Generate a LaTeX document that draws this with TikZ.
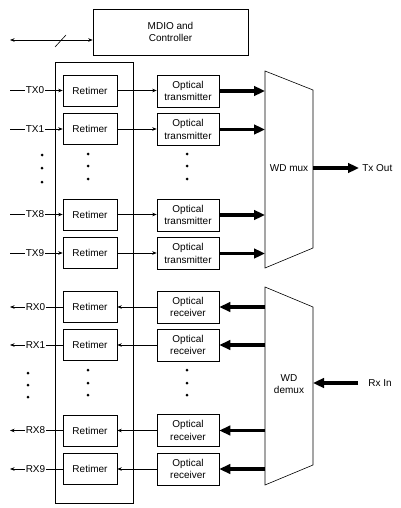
\documentclass[tikz,border=0pt]{standalone}
\usepackage{fontspec}
\setmainfont{Liberation Sans}
\usetikzlibrary{arrows.meta}

\begin{document}
\begin{tikzpicture}[
	x=1pt, y=-1pt,
	line width=0.6pt,
	every node/.style={font=\fontsize{10}{12.5}\selectfont},
	retimerbox/.style={shape=rectangle, draw=black, minimum width=54pt, minimum height=31pt, inner sep=0pt},
	opticbox/.style={shape=rectangle, draw=black, minimum width=62pt, minimum height=32pt, inner sep=0pt, align=center},
	portlabel/.style={inner sep=0.5pt},
	thinarrow/.style={-{Stealth[length=4.5pt,width=3.5pt]}},
	thickarrow/.style={line width=3.2pt, -{Triangle[length=11pt,width=9.5pt]}},
]
\useasboundingbox (0,0) rectangle (401,508);

% control block
\node[shape=rectangle, draw=black, minimum width=155pt, minimum height=46pt, align=center] (mdio) at (170.5,32) {MDIO and\\Controller};
\coordinate (bus) at (10,40);
\draw[{Stealth[length=4.5pt,width=3.5pt]}-{Stealth[length=4.5pt,width=3.5pt]}] (bus) -- (mdio.west |- bus);
\draw (55,47) -- (66,35);

% retimer frame
\draw (55,62) rectangle (133,503);

% transmit lanes
\node[retimerbox] (rt0) at (90,90.5) {Retimer};
\node[retimerbox] (rt1) at (90,129) {Retimer};
\node[retimerbox] (rt8) at (90,214.5) {Retimer};
\node[retimerbox] (rt9) at (90,253) {Retimer};
\node[opticbox] (ot0) at (188,91) {Optical\\transmitter};
\node[opticbox] (ot1) at (188,129.5) {Optical\\transmitter};
\node[opticbox] (ot8) at (188,215) {Optical\\transmitter};
\node[opticbox] (ot9) at (188,253.5) {Optical\\transmitter};
\node[portlabel] (tx0) at (35,90.5) {TX0};
\node[portlabel] (tx1) at (35,129) {TX1};
\node[portlabel] (tx8) at (35,214.5) {TX8};
\node[portlabel] (tx9) at (35,253) {TX9};
\coordinate (txs0) at (10,90.5);
\coordinate (txs1) at (10,129);
\coordinate (txs8) at (10,214.5);
\coordinate (txs9) at (10,253);
\draw (txs0) -- (tx0.west);
\draw (txs1) -- (tx1.west);
\draw (txs8) -- (tx8.west);
\draw (txs9) -- (tx9.west);
\draw[thinarrow] (tx0.east) -- (rt0.west);
\draw[thinarrow] (tx1.east) -- (rt1.west);
\draw[thinarrow] (tx8.east) -- (rt8.west);
\draw[thinarrow] (tx9.east) -- (rt9.west);
\draw[thinarrow] (rt0.east) -- (ot0.west |- rt0.east);
\draw[thinarrow] (rt1.east) -- (ot1.west |- rt1.east);
\draw[thinarrow] (rt8.east) -- (ot8.west |- rt8.east);
\draw[thinarrow] (rt9.east) -- (ot9.west |- rt9.east);

% mux
\draw (265,71) -- (313,90) -- (313,248) -- (265,268) -- cycle;
\node (muxlabel) at (289,168) {WD mux};
\coordinate (mux0) at (265,91);
\coordinate (mux1) at (265,129.5);
\coordinate (mux8) at (265,215);
\coordinate (mux9) at (265,253.5);
\draw[thickarrow] (ot0.east) -- (mux0);
\draw[thickarrow] (ot1.east) -- (mux1);
\draw[thickarrow] (ot8.east) -- (mux8);
\draw[thickarrow] (ot9.east) -- (mux9);
\coordinate (muxout) at (313,168);
\node[anchor=west, inner sep=0pt] (txout) at (362,168) {Tx Out};
\draw[thickarrow] (muxout) -- ([xshift=-3pt]txout.west);

% receive lanes
\node[retimerbox] (rr0) at (90,307) {Retimer};
\node[retimerbox] (rr1) at (90,345) {Retimer};
\node[retimerbox] (rr8) at (90,430.5) {Retimer};
\node[retimerbox] (rr9) at (90,469) {Retimer};
\node[opticbox] (or0) at (188,307) {Optical\\receiver};
\node[opticbox] (or1) at (188,345) {Optical\\receiver};
\node[opticbox] (or8) at (188,430.5) {Optical\\receiver};
\node[opticbox] (or9) at (188,469) {Optical\\receiver};
\node[portlabel] (rx0) at (35.5,307) {RX0};
\node[portlabel] (rx1) at (35.5,345) {RX1};
\node[portlabel] (rx8) at (35.5,430.5) {RX8};
\node[portlabel] (rx9) at (35.5,469) {RX9};
\coordinate (rxd0) at (10,307);
\coordinate (rxd1) at (10,345);
\coordinate (rxd8) at (10,430.5);
\coordinate (rxd9) at (10,469);
\draw[thinarrow] (rx0.west) -- (rxd0);
\draw[thinarrow] (rx1.west) -- (rxd1);
\draw[thinarrow] (rx8.west) -- (rxd8);
\draw[thinarrow] (rx9.west) -- (rxd9);
\draw (rr0.west) -- (rx0.east);
\draw (rr1.west) -- (rx1.east);
\draw (rr8.west) -- (rx8.east);
\draw (rr9.west) -- (rx9.east);
\draw[thinarrow] (or0.west |- rr0.east) -- (rr0.east);
\draw[thinarrow] (or1.west |- rr1.east) -- (rr1.east);
\draw[thinarrow] (or8.west |- rr8.east) -- (rr8.east);
\draw[thinarrow] (or9.west |- rr9.east) -- (rr9.east);

% demux
\draw (265,287) -- (313,307) -- (313,465) -- (265,485) -- cycle;
\node[align=center] (demuxlabel) at (289,384) {WD\\demux};
\coordinate (dmx0) at (265,307);
\coordinate (dmx1) at (265,345);
\coordinate (dmx8) at (265,430.5);
\coordinate (dmx9) at (265,469);
\draw[thickarrow] (dmx0) -- (or0.east);
\draw[thickarrow] (dmx1) -- (or1.east);
\draw[thickarrow] (dmx8) -- (or8.east);
\draw[thickarrow] (dmx9) -- (or9.east);
\coordinate (demuxin) at (313,383);
\node[anchor=west, inner sep=0pt] (rxin) at (368,383) {Rx In};
\draw[thickarrow] ([xshift=-10pt]rxin.west) -- (demuxin);

% ellipsis dots
\fill (42,155) circle (1.5);
\fill (42,168) circle (1.5);
\fill (42,182) circle (1.5);
\fill (88,154) circle (1.5);
\fill (88,166) circle (1.5);
\fill (88,179) circle (1.5);
\fill (187,154) circle (1.5);
\fill (187,166) circle (1.5);
\fill (187,179) circle (1.5);
\fill (28,373) circle (1.5);
\fill (28,385) circle (1.5);
\fill (28,397) circle (1.5);
\fill (88,370) circle (1.5);
\fill (88,383) circle (1.5);
\fill (88,395) circle (1.5);
\fill (187,370) circle (1.5);
\fill (187,383) circle (1.5);
\fill (187,395) circle (1.5);
\end{tikzpicture}
\end{document}
